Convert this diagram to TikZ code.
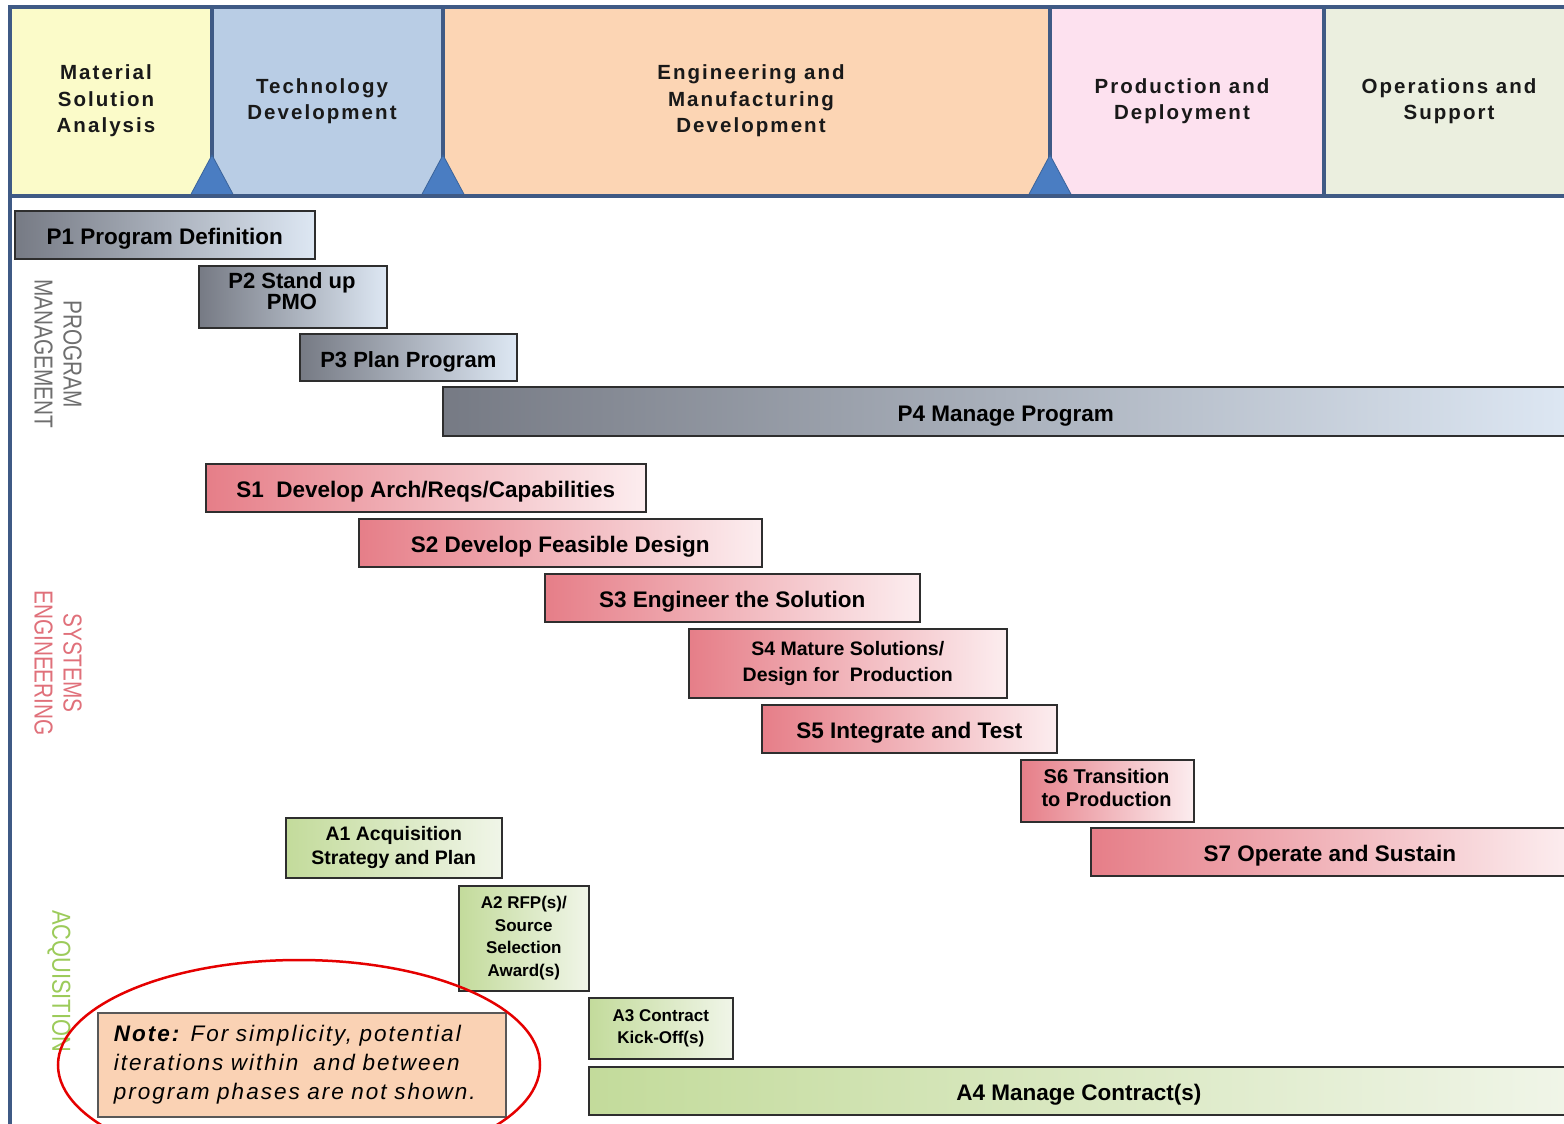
\documentclass[tikz,border=0pt]{standalone}
\usepackage{fontspec}
\setmainfont{Liberation Sans}
\newfontfamily\hdrfont{Liberation Sans}[LetterSpace=10]
\newfontfamily\notefont{Liberation Sans}[LetterSpace=9]
\usetikzlibrary{shapes.geometric}
\definecolor{framec}{HTML}{3F5A85}
\definecolor{msac}{HTML}{FBFBC9}
\definecolor{tdc}{HTML}{B9CDE5}
\definecolor{emdc}{HTML}{FCD5B4}
\definecolor{pdc}{HTML}{FDE1EF}
\definecolor{osc}{HTML}{EBEFDF}
\definecolor{tric}{HTML}{4A7DC2}
\definecolor{boxline}{HTML}{2E2E2E}
\definecolor{pl}{HTML}{767A84}
\definecolor{pr}{HTML}{DDE7F3}
\definecolor{sl}{HTML}{E67E88}
\definecolor{sr}{HTML}{FCEDEF}
\definecolor{al}{HTML}{C3DB9B}
\definecolor{ar}{HTML}{F0F5E8}
\definecolor{notec}{HTML}{FAD2B4}
\definecolor{pmc}{HTML}{6E6E6E}
\definecolor{sec}{HTML}{E0707A}
\definecolor{acqc}{HTML}{9CCB5A}
\begin{document}
\begin{tikzpicture}[x=1pt,y=-1pt,
  hdr/.style={align=center, inner sep=0, text=black!90,
    font=\hdrfont\bfseries\fontsize{20.5}{26.5}\selectfont},
  box/.style={draw=boxline, line width=1.6, anchor=north west, inner sep=0,
    align=center, text=black},
  big/.style={font=\bfseries\fontsize{22.5}{24}\selectfont,
    text height=20pt, text depth=0pt},
  pbox/.style={box, left color=pl, right color=pr},
  sbox/.style={box, left color=sl, right color=sr},
  abox/.style={box, left color=al, right color=ar},
  btext/.style={align=center, inner sep=0, text=black},
  vlab/.style={rotate=-90, align=center, inner sep=0,
    font=\fontsize{26}{29}\selectfont},
  tri/.style={fill=tric, draw=tric!80!black, line width=0.8}
]
\useasboundingbox (0,0) rectangle (1564,1124);
\fill[white] (0,0) rectangle (1564,1124);

% header columns
\fill[msac] (10,7) rectangle (212,196);
\fill[tdc] (212,7) rectangle (443,196);
\fill[emdc] (443,7) rectangle (1050,196);
\fill[pdc] (1050,7) rectangle (1324,196);
\fill[osc] (1324,7) rectangle (1575,196);

% frame
\draw[framec, line width=4] (1575,7) -- (10,7) -- (10,1130);
\draw[framec, line width=4] (212,7) -- (212,196);
\draw[framec, line width=4] (443,7) -- (443,196);
\draw[framec, line width=4] (1050,7) -- (1050,196);
\draw[framec, line width=4] (1324,7) -- (1324,196);

% milestone triangles
\fill[tri] (190,196) -- (212,155) -- (234,196) -- cycle;
\fill[tri] (421,196) -- (443,155) -- (465,196) -- cycle;
\fill[tri] (1028,196) -- (1050,155) -- (1072,196) -- cycle;
\draw[framec, line width=4] (8,196) -- (1575,196);

% header texts
\node[hdr] (msa) at (106,101) {Material\\Solution\\Analysis};
\node[hdr] (td) at (322,101) {Technology\\Development};
\node[hdr] (emd) at (751,101) {Engineering and\\Manufacturing\\Development};
\node[hdr] (pd) at (1182,101) {Production and\\Deployment};
\node[hdr] (os) at (1449,101) {Operations and\\Support};

% side labels
\node[vlab, text=pmc] (pm) at (58,354) {\scalebox{0.8}[1]{PROGRAM}\\\scalebox{0.8}[1]{MANAGEMENT}};
\node[vlab, text=sec] (se) at (58,663) {\scalebox{0.8}[1]{SYSTEMS}\\\scalebox{0.8}[1]{ENGINEERING}};
\node[vlab, text=acqc] (acq) at (59,981) {\scalebox{0.84}[1]{ACQUISITION}};

% program management
\node[pbox, big, minimum width=300, minimum height=48] (p1) at (14,210) {P1 Program Definition};
\node[pbox, minimum width=188, minimum height=62] (p2) at (198,265) {};
\node[btext, font=\bfseries\fontsize{22}{21}\selectfont] (p2t) at (292,291.5) {P2 Stand up\\PMO};
\node[pbox, big, minimum width=217, minimum height=47,
  font=\bfseries\fontsize{22}{24}\selectfont] (p3) at (299,333) {P3 Plan Program};
\node[pbox, big, minimum width=1126, minimum height=49] (p4) at (442,386) {P4 Manage Program};

% systems engineering
\node[sbox, big, minimum width=440, minimum height=48] (s1) at (205,463) {S1\ \ Develop Arch/Reqs/Capabilities};
\node[sbox, big, minimum width=403, minimum height=48] (s2) at (358,518) {S2 Develop Feasible Design};
\node[sbox, big, minimum width=375, minimum height=48] (s3) at (544,573) {S3 Engineer the Solution};
\node[sbox, minimum width=318, minimum height=69,
  font=\bfseries\fontsize{19.5}{26}\selectfont] (s4) at (688,628) {S4 Mature Solutions/\\Design for\ \ Production};
\node[sbox, big, minimum width=295, minimum height=48] (s5) at (761,704) {S5 Integrate and Test};
\node[sbox, minimum width=173, minimum height=62] (s6) at (1020,759) {};
\node[btext, font=\bfseries\fontsize{20}{23}\selectfont] (s6t) at (1106.5,787.5) {S6 Transition\\to Production};
\node[sbox, big, minimum width=478, minimum height=48] (s7) at (1090,827) {S7 Operate and Sustain};

% acquisition
\node[abox, minimum width=216, minimum height=60,
  font=\bfseries\fontsize{19.5}{24}\selectfont] (a1) at (285,817) {A1\ Acquisition\\Strategy and Plan};
\node[abox, minimum width=130, minimum height=105,
  font=\bfseries\fontsize{17}{22.5}\selectfont] (a2) at (458,885) {A2 RFP(s)/\\Source\\Selection\\Award(s)};
\node[abox, minimum width=144, minimum height=61,
  font=\bfseries\fontsize{17}{22}\selectfont] (a3) at (588,997) {A3 Contract\\Kick-Off(s)};
\node[abox, big, minimum width=980, minimum height=48] (a4) at (588,1066) {A4 Manage Contract(s)};

% note
\node[box, fill=notec, draw=boxline!80, minimum width=408, minimum height=104,
  align=left, text width=376, inner xsep=16, inner ysep=0,
  font=\notefont\itshape\fontsize{22.5}{29}\selectfont] (note) at (97,1012)
  {\textbf{Note:} For simplicity, potential\\iterations within\ \ and between\\program phases are not shown.};

% highlight ellipse
\node[ellipse, draw=red!90!black, line width=2.5, minimum width=482, minimum height=210, inner sep=0] (ring) at (299,1065) {};
\end{tikzpicture}
\end{document}
